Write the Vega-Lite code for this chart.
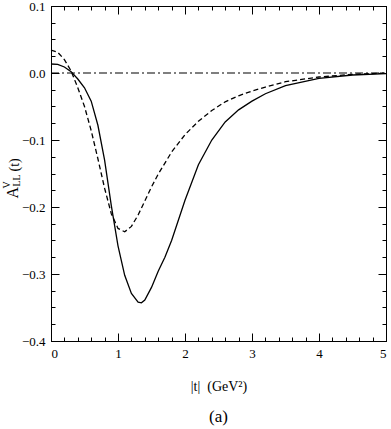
{
  "$schema": "https://vega.github.io/schema/vega-lite/v6.json",
  "autosize": "none",
  "padding": {"left": 51, "top": 6, "right": 5, "bottom": 88},
  "width": 335,
  "height": 335,
  "title": {"text": "(a)", "orient": "bottom", "offset": 16, "font": "Liberation Serif", "fontSize": 17, "fontWeight": "normal", "color": "#000000"},
  "data": {"values": [
    {"series": "solid", "t": 0.0, "v": 0.0134},
    {"series": "solid", "t": 0.1, "v": 0.0128},
    {"series": "solid", "t": 0.2, "v": 0.009},
    {"series": "solid", "t": 0.3, "v": 0.002},
    {"series": "solid", "t": 0.4, "v": -0.009},
    {"series": "solid", "t": 0.5, "v": -0.022},
    {"series": "solid", "t": 0.6, "v": -0.042},
    {"series": "solid", "t": 0.7, "v": -0.078},
    {"series": "solid", "t": 0.8, "v": -0.13},
    {"series": "solid", "t": 0.9, "v": -0.198},
    {"series": "solid", "t": 1.0, "v": -0.258},
    {"series": "solid", "t": 1.1, "v": -0.302},
    {"series": "solid", "t": 1.2, "v": -0.329},
    {"series": "solid", "t": 1.3, "v": -0.342},
    {"series": "solid", "t": 1.35, "v": -0.343},
    {"series": "solid", "t": 1.4, "v": -0.339},
    {"series": "solid", "t": 1.5, "v": -0.32},
    {"series": "solid", "t": 1.6, "v": -0.296},
    {"series": "solid", "t": 1.7, "v": -0.275},
    {"series": "solid", "t": 1.8, "v": -0.25},
    {"series": "solid", "t": 2.0, "v": -0.19},
    {"series": "solid", "t": 2.2, "v": -0.137},
    {"series": "solid", "t": 2.4, "v": -0.1},
    {"series": "solid", "t": 2.6, "v": -0.073},
    {"series": "solid", "t": 2.8, "v": -0.055},
    {"series": "solid", "t": 3.0, "v": -0.042},
    {"series": "solid", "t": 3.2, "v": -0.031},
    {"series": "solid", "t": 3.5, "v": -0.019},
    {"series": "solid", "t": 4.0, "v": -0.008},
    {"series": "solid", "t": 4.5, "v": -0.003},
    {"series": "solid", "t": 5.0, "v": -0.001},
    {"series": "dashed", "t": 0.0, "v": 0.034},
    {"series": "dashed", "t": 0.1, "v": 0.031},
    {"series": "dashed", "t": 0.2, "v": 0.02},
    {"series": "dashed", "t": 0.3, "v": 0.003},
    {"series": "dashed", "t": 0.4, "v": -0.022},
    {"series": "dashed", "t": 0.5, "v": -0.05},
    {"series": "dashed", "t": 0.6, "v": -0.086},
    {"series": "dashed", "t": 0.7, "v": -0.128},
    {"series": "dashed", "t": 0.8, "v": -0.172},
    {"series": "dashed", "t": 0.9, "v": -0.21},
    {"series": "dashed", "t": 1.0, "v": -0.232},
    {"series": "dashed", "t": 1.1, "v": -0.237},
    {"series": "dashed", "t": 1.2, "v": -0.229},
    {"series": "dashed", "t": 1.3, "v": -0.212},
    {"series": "dashed", "t": 1.4, "v": -0.191},
    {"series": "dashed", "t": 1.5, "v": -0.17},
    {"series": "dashed", "t": 1.6, "v": -0.151},
    {"series": "dashed", "t": 1.8, "v": -0.118},
    {"series": "dashed", "t": 2.0, "v": -0.092},
    {"series": "dashed", "t": 2.2, "v": -0.072},
    {"series": "dashed", "t": 2.4, "v": -0.056},
    {"series": "dashed", "t": 2.6, "v": -0.043},
    {"series": "dashed", "t": 2.8, "v": -0.034},
    {"series": "dashed", "t": 3.0, "v": -0.027},
    {"series": "dashed", "t": 3.2, "v": -0.021},
    {"series": "dashed", "t": 3.5, "v": -0.013},
    {"series": "dashed", "t": 4.0, "v": -0.006},
    {"series": "dashed", "t": 4.5, "v": -0.002},
    {"series": "dashed", "t": 5.0, "v": 0.0},
    {"series": "zero", "t": 0.0, "v": 0.0},
    {"series": "zero", "t": 5.0, "v": 0.0}
  ]},
  "resolve": {"axis": {"x": "independent", "y": "independent"}},
  "layer": [
    {
      "transform": [{"filter": "datum.series === 'solid'"}],
      "mark": {"type": "line", "color": "#000000", "strokeWidth": 1.3},
      "encoding": {
        "x": {"field": "t", "type": "quantitative", "scale": {"domain": [0, 5], "nice": false},
          "axis": {"orient": "bottom", "values": [0, 1, 2, 3, 4, 5], "format": "d", "tickSize": -8, "tickColor": "#000000", "tickWidth": 1, "domainColor": "#000000", "gridOpacity": 0, "labelPadding": 14, "labelFont": "Liberation Serif", "labelFontSize": 13, "labelColor": "#000000", "title": "|t|\u00a0\u00a0(GeV²)", "titleFont": "Liberation Serif", "titleFontSize": 14, "titleFontWeight": "normal", "titleColor": "#000000", "titlePadding": 19}},
        "y": {"field": "v", "type": "quantitative", "scale": {"domain": [-0.4, 0.1], "nice": false, "zero": false},
          "axis": {"orient": "left", "values": [-0.4, -0.3, -0.2, -0.1, 0, 0.1], "format": ".1f", "tickSize": -8, "tickColor": "#000000", "tickWidth": 1, "domainColor": "#000000", "gridOpacity": 0, "labelPadding": 14, "labelFont": "Liberation Serif", "labelFontSize": 13, "labelColor": "#000000", "title": "A", "titleFont": "Liberation Serif", "titleFontSize": 16, "titleFontWeight": "normal", "titleColor": "#000000", "titleAngle": 270, "titleAlign": "left", "titleBaseline": "alphabetic", "titleX": -34, "titleY": 192}}
      }
    },
    {
      "transform": [{"filter": "datum.series === 'dashed'"}],
      "mark": {"type": "line", "color": "#000000", "strokeWidth": 1.3, "strokeDash": [5, 3]},
      "encoding": {
        "x": {"field": "t", "type": "quantitative", "scale": {"domain": [0, 5], "nice": false},
          "axis": {"orient": "bottom", "values": [0.2, 0.4, 0.6, 0.8, 1.2, 1.4, 1.6, 1.8, 2.2, 2.4, 2.6, 2.8, 3.2, 3.4, 3.6, 3.8, 4.2, 4.4, 4.6, 4.8], "tickSize": -4, "tickColor": "#000000", "tickWidth": 1, "domainColor": "#000000", "gridOpacity": 0, "labels": false, "title": null}},
        "y": {"field": "v", "type": "quantitative", "scale": {"domain": [-0.4, 0.1], "nice": false, "zero": false},
          "axis": {"orient": "left", "values": [-0.375, -0.35, -0.325, -0.275, -0.25, -0.225, -0.175, -0.15, -0.125, -0.075, -0.05, -0.025, 0.025, 0.05, 0.075], "tickSize": -4, "tickColor": "#000000", "tickWidth": 1, "domainColor": "#000000", "gridOpacity": 0, "labels": false, "title": "V", "titleFont": "Liberation Serif", "titleFontSize": 10, "titleFontWeight": "normal", "titleColor": "#000000", "titleAngle": 270, "titleAlign": "left", "titleBaseline": "alphabetic", "titleX": -42, "titleY": 182}}
      }
    },
    {
      "transform": [{"filter": "datum.series === 'zero'"}],
      "mark": {"type": "line", "color": "#000000", "strokeWidth": 1.2, "strokeDash": [8, 3, 2, 3]},
      "encoding": {
        "x": {"field": "t", "type": "quantitative", "scale": {"domain": [0, 5], "nice": false},
          "axis": {"orient": "top", "values": [0, 1, 2, 3, 4, 5], "tickSize": -8, "tickColor": "#000000", "tickWidth": 1, "domainColor": "#000000", "gridOpacity": 0, "labels": false, "title": null}},
        "y": {"field": "v", "type": "quantitative", "scale": {"domain": [-0.4, 0.1], "nice": false, "zero": false},
          "axis": {"orient": "right", "values": [-0.4, -0.3, -0.2, -0.1, 0, 0.1], "tickSize": -8, "tickColor": "#000000", "tickWidth": 1, "domainColor": "#000000", "gridOpacity": 0, "labels": false, "title": "LL", "titleFont": "Liberation Serif", "titleFontSize": 10, "titleFontWeight": "normal", "titleColor": "#000000", "titleAngle": 270, "titleAlign": "left", "titleBaseline": "alphabetic", "titleX": -367, "titleY": 180}}
      }
    },
    {
      "transform": [{"filter": "datum.series === 'zero'"}],
      "mark": {"type": "point", "opacity": 0},
      "encoding": {
        "x": {"field": "t", "type": "quantitative", "scale": {"domain": [0, 5], "nice": false},
          "axis": {"orient": "top", "values": [0.2, 0.4, 0.6, 0.8, 1.2, 1.4, 1.6, 1.8, 2.2, 2.4, 2.6, 2.8, 3.2, 3.4, 3.6, 3.8, 4.2, 4.4, 4.6, 4.8], "tickSize": -4, "tickColor": "#000000", "tickWidth": 1, "domainColor": "#000000", "gridOpacity": 0, "labels": false, "title": null}},
        "y": {"field": "v", "type": "quantitative", "scale": {"domain": [-0.4, 0.1], "nice": false, "zero": false},
          "axis": {"orient": "right", "values": [-0.375, -0.35, -0.325, -0.275, -0.25, -0.225, -0.175, -0.15, -0.125, -0.075, -0.05, -0.025, 0.025, 0.05, 0.075], "tickSize": -4, "tickColor": "#000000", "tickWidth": 1, "domainColor": "#000000", "gridOpacity": 0, "labels": false, "title": "(t)", "titleFont": "Liberation Serif", "titleFontSize": 14, "titleFontWeight": "normal", "titleColor": "#000000", "titleAngle": 270, "titleAlign": "left", "titleBaseline": "alphabetic", "titleX": -368, "titleY": 165}}
      }
    }
  ]
}
